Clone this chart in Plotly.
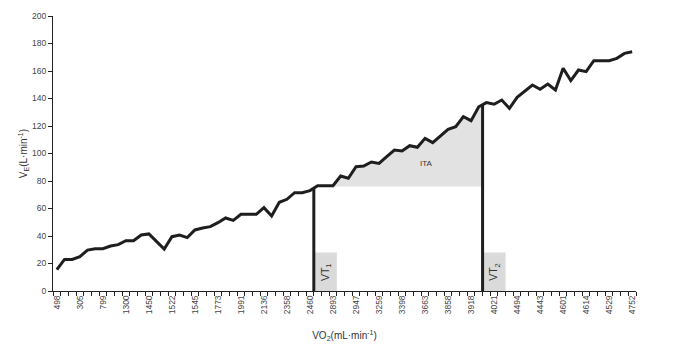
import numpy as np
import plotly.graph_objects as go

# ---- data ----
ve_values = [15.5, 23, 23, 25, 29.8, 30.8, 30.8, 32.7, 33.7, 36.6,
             36.6, 40.7, 41.5, 36, 30.5, 39.5, 40.7, 38.8, 44.4, 45.8,
             46.8, 49.7, 53.1, 51.4, 55.8, 55.8, 55.8, 60.6, 54.5, 64.5,
             66.7, 71.5, 71.5, 73, 76.6, 76.6, 76.6, 83.6, 82, 90.4,
             90.9, 93.8, 92.8, 97.7, 102.5, 101.8, 105.7, 104.5, 111, 107.9,
             112.7, 117.6, 119.5, 126.8, 123.9, 134, 137, 135.8, 138.9, 132.9,
             140.8, 145, 149.8, 146.7, 150.5, 146.2, 162, 153, 160.7, 159.5,
             167.5, 167.5, 167.5, 169.2, 172.8, 174]
tick_labels = ["498", "305", "799", "1300", "1450", "1522", "1545", "1773", "1991",
               "2136", "2358", "2460", "2893", "2947", "3259", "3398", "3663", "3858",
               "3918", "4021", "4494", "4443", "4601", "4614", "4529", "4752"]
label_every = 3
vt1_position = 33.5      # category position of VT1
vt2_position = 55.5      # category position of VT2
ita_baseline = 76        # VE at VT1
vt_box_span = 3          # categories covered by VT label boxes
vt_box_height = 28       # VE units
ita_label_pos = (48.2, 93)

n = len(ve_values)
x = np.arange(n)
y = np.array(ve_values, dtype=float)

vt1_y = float(np.interp(vt1_position, x, y))
vt2_y = float(np.interp(vt2_position, x, y))

# ITA polygon
inside = (x > vt1_position) & (x < vt2_position)
poly_x = [vt1_position, vt1_position] + list(x[inside]) + [vt2_position, vt2_position]
poly_y = [ita_baseline, vt1_y] + list(y[inside]) + [vt2_y, ita_baseline]

fig = go.Figure()
fig.add_trace(go.Scatter(x=poly_x, y=poly_y, fill="toself", mode="none",
                         fillcolor="#e2e2e2", hoverinfo="skip", showlegend=False))
fig.add_trace(go.Scatter(x=x, y=y, mode="lines",
                         line=dict(color="#1e1e1e", width=3), showlegend=False))

shapes = []
for pos, top in [(vt1_position, vt1_y), (vt2_position, vt2_y)]:
    shapes.append(dict(type="rect", xref="x", yref="y", x0=pos, x1=pos + vt_box_span,
                       y0=0, y1=vt_box_height, fillcolor="#dadada", line=dict(width=0),
                       layer="below"))
    shapes.append(dict(type="line", xref="x", yref="y", x0=pos, x1=pos, y0=0, y1=top,
                       line=dict(color="#1e1e1e", width=3)))

annotations = [
    dict(x=vt1_position + vt_box_span / 2, y=vt_box_height / 2, xref="x", yref="y",
         text="VT<sub>1</sub>", textangle=-90, showarrow=False,
         font=dict(size=10.5, color="#333")),
    dict(x=vt2_position + vt_box_span / 2, y=vt_box_height / 2, xref="x", yref="y",
         text="VT<sub>2</sub>", textangle=-90, showarrow=False,
         font=dict(size=10.5, color="#333")),
    dict(x=ita_label_pos[0], y=ita_label_pos[1], xref="x", yref="y", text="ITA",
         showarrow=False, font=dict(size=8, color="#333")),
]

tickvals = list(range(0, n, label_every))
fig.update_layout(
    width=700, height=352,
    margin=dict(l=45, r=72, t=8, b=69),
    plot_bgcolor="white", paper_bgcolor="white",
    font=dict(family="Liberation Sans, Arial, sans-serif", color="#333"),
    shapes=shapes, annotations=annotations,
    xaxis=dict(range=[-0.5, n - 0.5], tickmode="array", tickvals=tickvals,
               ticktext=tick_labels, tickangle=-90, ticks="outside", ticklen=0,
               tickfont=dict(size=8.5, color="#444"), showgrid=False, zeroline=False,
               showline=True, linecolor="#222", linewidth=1, automargin=False,
               minor=dict(tick0=-0.5, dtick=1, ticks="outside", ticklen=4,
                          tickcolor="#222", showgrid=False),
               title=dict(text="VO<sub>2</sub>(mL·min<sup>-1</sup>)",
                          font=dict(size=10, color="#333"), standoff=18)),
    yaxis=dict(range=[0, 200], tickmode="linear", tick0=0, dtick=20,
               ticks="outside", ticklen=4, tickcolor="#222", automargin=False,
               tickfont=dict(size=8.5, color="#444"), showgrid=False, zeroline=False,
               showline=True, linecolor="#222", linewidth=1,
               title=dict(text="V<sub>E</sub>(L·min<sup>-1</sup>)",
                          font=dict(size=10, color="#333"), standoff=2)),
)

fig.write_html("out.html")
